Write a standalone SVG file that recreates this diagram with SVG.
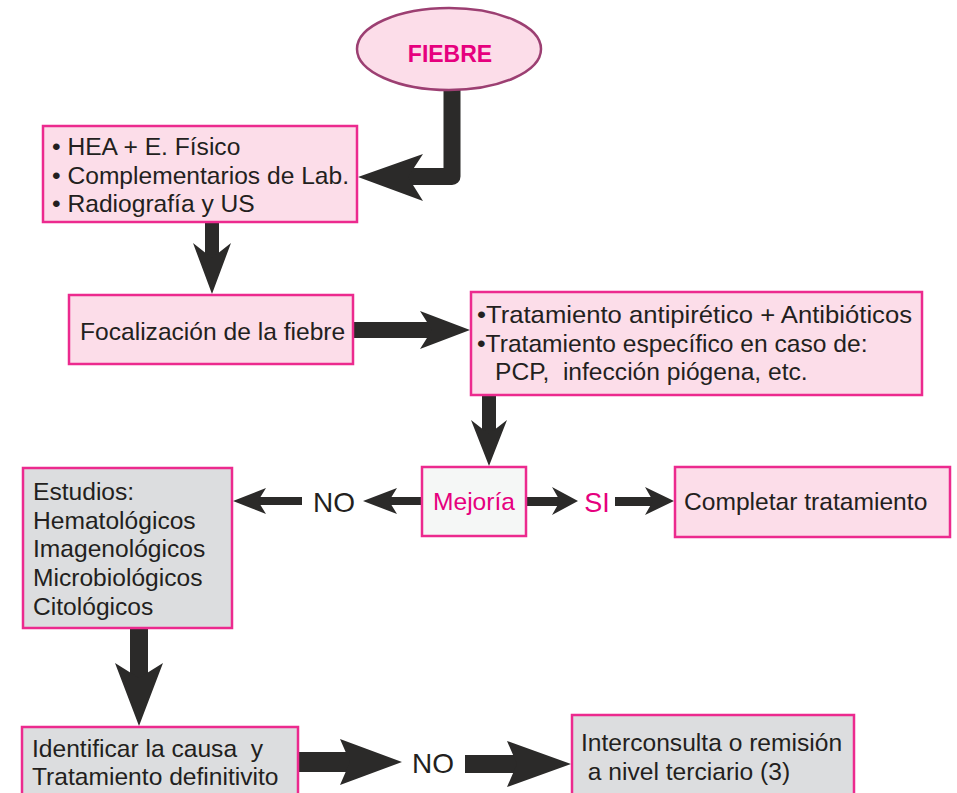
<svg xmlns="http://www.w3.org/2000/svg" width="957" height="793" viewBox="0 0 957 793">
<style>
.t{font-family:"Liberation Sans",Arial,sans-serif;font-size:24.6px;fill:#231f20;white-space:pre}
.m{fill:#e6007e}
.pk{fill:#fcdde9;stroke:#ec2a8e;stroke-width:2.5}
.gr{fill:#dcdddf;stroke:#ec2a8e;stroke-width:2.5}
.wh{fill:#f5f7f6;stroke:#ec2a8e;stroke-width:2.5}
.a{fill:#2b2a29}
</style>
<rect width="957" height="793" fill="#ffffff"/>
<g id="connectors">
  <path d="M452,88 V176.5 H405" fill="none" stroke="#2b2a29" stroke-width="17" stroke-linejoin="round"/>
  <path class="a" d="M358,177 L423,154 L408,177 L423,201 Z"/>
  <rect class="a" x="205" y="222" width="14" height="38"/>
  <path class="a" d="M212,294 L193,243 L212,258 L231,243 Z"/>
  <rect class="a" x="353" y="322" width="80" height="16"/>
  <path class="a" d="M470,330 L420,311 L432,330 L420,349 Z"/>
  <rect class="a" x="482" y="395" width="14" height="40"/>
  <path class="a" d="M489,466 L471,420 L489,434 L507,420 Z"/>
  <rect class="a" x="388" y="497" width="34" height="8"/>
  <path class="a" d="M363,501 L397,488 L389,501 L397,514 Z"/>
  <rect class="a" x="258" y="497" width="44" height="8"/>
  <path class="a" d="M233,501 L266,488 L258,501 L266,514 Z"/>
  <rect class="a" x="526" y="497" width="35" height="9"/>
  <path class="a" d="M578,501 L552,487 L560,501 L552,515 Z"/>
  <rect class="a" x="615" y="497" width="39" height="9"/>
  <path class="a" d="M674,501 L645,487 L653,501 L645,515 Z"/>
  <rect class="a" x="130" y="628" width="18" height="52"/>
  <path class="a" d="M139,726 L115,663 L139,678 L163,663 Z"/>
  <rect class="a" x="298" y="752" width="54" height="20"/>
  <path class="a" d="M402,762 L340,739 L350,762 L340,785 Z"/>
  <rect class="a" x="465" y="755" width="54" height="18"/>
  <path class="a" d="M571,764 L507,741 L517,764 L507,787 Z"/>
</g>
<g id="fiebre">
  <ellipse cx="449" cy="49" rx="92" ry="41" fill="#fcdde9" stroke="#9c3f72" stroke-width="2.5"/>
  <text x="450" y="62" text-anchor="middle" style="font-family:'Liberation Sans',Arial,sans-serif;font-size:23px;font-weight:bold;fill:#e6007e">FIEBRE</text>
</g>
<g id="box-estudio-inicial">
  <rect class="pk" x="43" y="126" width="314" height="96"/>
  <text class="t" x="52" y="155">• HEA + E. Físico</text>
  <text class="t" x="52" y="183.5">• Complementarios de Lab.</text>
  <text class="t" x="52" y="212">• Radiografía y US</text>
</g>
<g id="box-focalizacion">
  <rect class="pk" x="69" y="295" width="284" height="69"/>
  <text class="t" x="80" y="340">Focalización de la fiebre</text>
</g>
<g id="box-tratamiento">
  <rect class="pk" x="471" y="292" width="451" height="103"/>
  <text class="t" x="477" y="323" textLength="435" lengthAdjust="spacingAndGlyphs">•Tratamiento antipirético + Antibióticos</text>
  <text class="t" x="477" y="352">•Tratamiento específico en caso de:</text>
  <text class="t" x="495" y="380">PCP,  infección piógena, etc.</text>
</g>
<g id="box-mejoria">
  <rect class="wh" x="422" y="467" width="104" height="69"/>
  <text class="t m" x="474" y="510" text-anchor="middle">Mejoría</text>
</g>
<g id="label-no-1">
  <text class="t" x="334" y="512" text-anchor="middle" style="font-size:28px">NO</text>
</g>
<g id="label-si">
  <text class="t m" x="597" y="512" text-anchor="middle" style="font-size:27px">SI</text>
</g>
<g id="box-completar">
  <rect class="pk" x="675" y="467" width="275" height="70"/>
  <text class="t" x="684" y="510">Completar tratamiento</text>
</g>
<g id="box-estudios">
  <rect class="gr" x="23" y="468" width="209" height="160"/>
  <text class="t" x="33" y="500">Estudios:</text>
  <text class="t" x="33" y="529">Hematológicos</text>
  <text class="t" x="33" y="557">Imagenológicos</text>
  <text class="t" x="33" y="586">Microbiológicos</text>
  <text class="t" x="33" y="615">Citológicos</text>
</g>
<g id="box-identificar">
  <rect class="gr" x="22" y="727" width="276" height="80"/>
  <text class="t" x="32" y="757">Identificar la causa  y</text>
  <text class="t" x="32" y="785">Tratamiento definitivito</text>
</g>
<g id="label-no-2">
  <text class="t" x="433" y="773" text-anchor="middle" style="font-size:28px">NO</text>
</g>
<g id="box-interconsulta">
  <rect class="gr" x="572" y="715" width="282" height="90"/>
  <text class="t" x="581" y="751">Interconsulta o remisión</text>
  <text class="t" x="581" y="780"> a nivel terciario (3)</text>
</g>
</svg>
